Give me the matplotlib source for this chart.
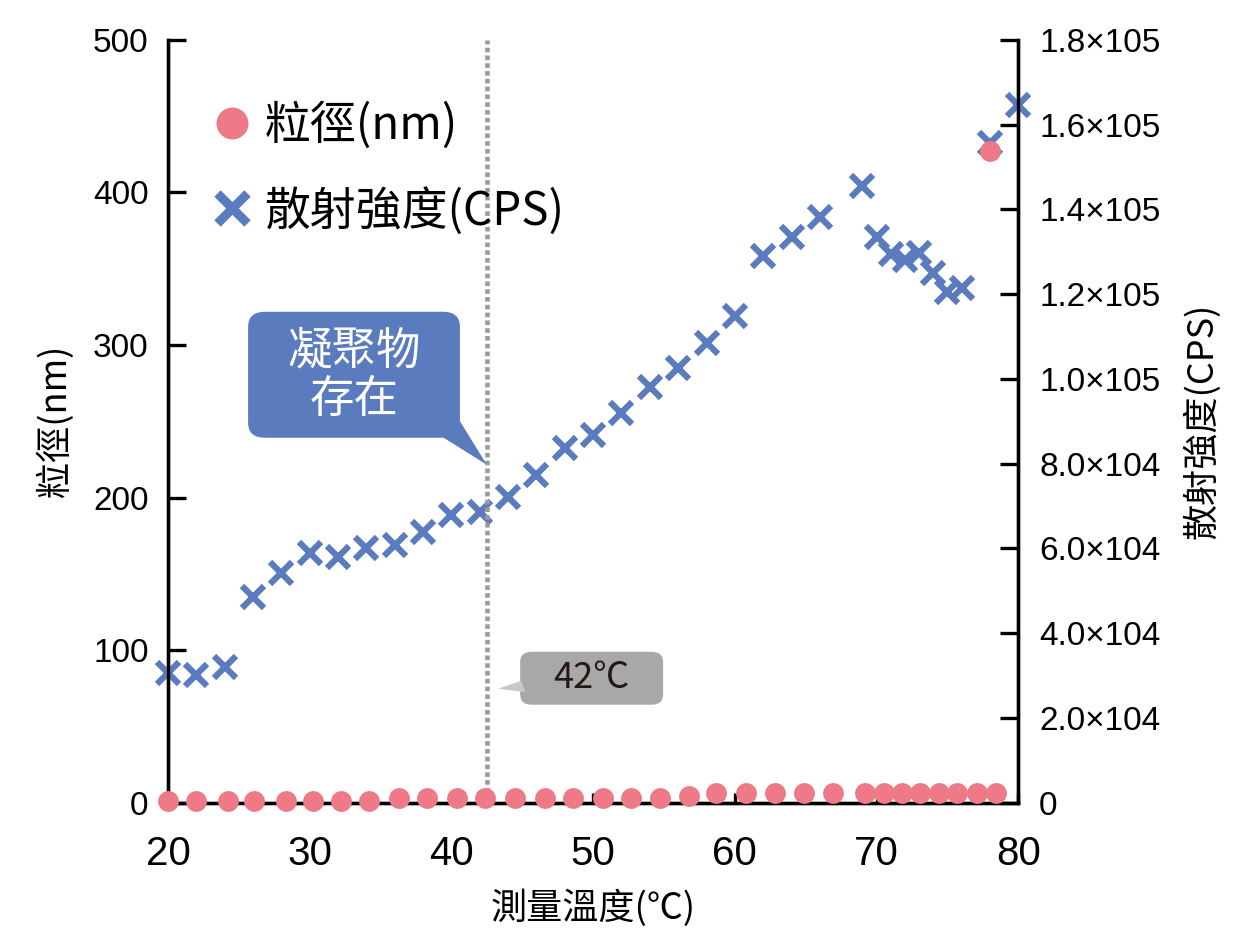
import matplotlib
matplotlib.use("Agg")
import matplotlib.pyplot as plt
from matplotlib.lines import Line2D
from matplotlib.patches import FancyBboxPatch, Polygon

plt.rcParams['font.family'] = ['Noto Sans CJK TC', 'DejaVu Sans']

# particle size (nm) vs temperature
size_temp = [20.0, 22.0, 24.2, 26.1, 28.3, 30.2, 32.2, 34.2, 36.3, 38.3, 40.4, 42.4,
             44.5, 46.6, 48.6, 50.7, 52.7, 54.7, 56.8, 58.7, 60.8, 62.8, 64.9, 66.9,
             69.2, 70.5, 71.8, 73.1, 74.4, 75.7, 77.1, 78.4, 78.0]
size_nm = [1, 1, 1, 1, 1, 1, 1, 1, 3, 3, 3, 3,
           3, 3, 3, 3, 3, 3, 4.5, 6, 6, 6, 6, 6,
           6, 6, 6, 6, 6, 6, 6, 6, 427]

# scattering intensity (CPS) vs temperature
cps_temp = [20, 22, 24, 26, 28, 30, 32, 34, 36, 38, 40, 42, 44, 46, 48, 50, 52, 54,
            56, 58, 60, 62, 64, 66, 69, 70, 71, 72, 73, 74, 75, 76, 78, 80]
cps = [30700, 30200, 31900, 48600, 54300, 59000, 58000, 60200, 60900, 63900, 67900,
       68700, 72200, 77400, 83800, 86800, 92000, 98100, 102600, 108500, 114900,
       129000, 133500, 138200, 145500, 133500, 129500, 128100, 129700, 125000,
       120500, 121500, 155700, 164700]

left_ticks = [0, 100, 200, 300, 400, 500]
right_ticks = [0, 20000, 40000, 60000, 80000, 100000, 120000, 140000, 160000, 180000]
right_labels = ['0', '2.0×104', '4.0×104', '6.0×104', '8.0×104', '1.0×105',
                '1.2×105', '1.4×105', '1.6×105', '1.8×105']
x_ticks = [20, 30, 40, 50, 60, 70, 80]

red = '#ee7a87'
blue = '#5b7bbf'
grey = '#a8a8a8'
num_font = 'Liberation Sans'

fig = plt.figure(figsize=(12.54, 9.51), dpi=100)
ax = fig.add_axes([0.134, 0.156, 0.678, 0.802])
ax2 = ax.twinx()

ax.set_xlim(20, 80)
ax.set_ylim(0, 500)
ax2.set_ylim(0, 180000)

ax2.plot(cps_temp, cps, linestyle='none', marker='x', ms=16.5, mew=4.5, color=blue,
         clip_on=False, zorder=3)
ax.plot(size_temp, size_nm, linestyle='none', marker='o', ms=15, color=red,
        mec='none', clip_on=False, zorder=4)
ax.set_zorder(ax2.get_zorder() + 1)
ax.patch.set_visible(False)

# 42 C marker line
ax.plot([42.5, 42.5], [7, 500], color='#9a9a9a', lw=3.3, ls=(0, (1, 0.7)), zorder=1)

for a in (ax, ax2):
    a.spines['top'].set_visible(False)
    for s in a.spines.values():
        s.set_linewidth(2.4)

ax.set_xticks(x_ticks)
ax.set_xticklabels([str(t) for t in x_ticks], family=num_font, fontsize=29)
ax.set_yticks(left_ticks)
ax.set_yticklabels([str(t) for t in left_ticks], family=num_font, fontsize=24)
ax.tick_params(axis='y', direction='in', length=13, width=2.4, pad=14)
ax.tick_params(axis='x', direction='in', length=7, width=2.4, pad=23)
ax2.set_yticks(right_ticks)
ax2.set_yticklabels(right_labels, family=num_font, fontsize=24)
ax2.tick_params(axis='y', direction='in', length=13, width=2.4, pad=15)

ax.set_xlabel('測量溫度(℃)', fontsize=26, labelpad=12)
ax.set_ylabel('粒徑(nm)', fontsize=26, labelpad=14)
ax2.set_ylabel('散射強度(CPS)', fontsize=26, labelpad=16)

handles = [Line2D([], [], ls='none', marker='o', ms=23, color=red, mec='none'),
           Line2D([], [], ls='none', marker='x', ms=22, mew=6.5, color=blue)]
ax.legend(handles, ['粒徑(nm)', '散射強度(CPS)'], loc='upper left',
          bbox_to_anchor=(0.027, 0.943), borderaxespad=0, frameon=False, fontsize=33,
          handletextpad=0.2, labelspacing=0.8, handlelength=1.0)

# callout: aggregates present
ax.add_patch(FancyBboxPatch((25.65, 239.2), 40.6 - 25.65, 321.8 - 239.2,
                            boxstyle='round,pad=0,rounding_size=1.2',
                            mutation_aspect=8.2, fc=blue, ec='none', zorder=5))
ax.add_patch(Polygon([(39.4, 239.5), (40.6, 250), (42.5, 221.5)], closed=True,
                     fc=blue, ec='none', zorder=5))
ax.text(33.1, 280.5, '凝聚物\n存在', ha='center', va='center', color='white',
        fontsize=32, linespacing=1.05, zorder=6)

# callout: 42 C
ax.add_patch(FancyBboxPatch((44.85, 64.2), 54.94 - 44.85, 98.9 - 64.2,
                            boxstyle='round,pad=0,rounding_size=0.8',
                            mutation_aspect=8.2, fc=grey, ec='none', zorder=5))
ax.add_patch(Polygon([(44.95, 80), (45.2, 72.5), (43.3, 74.7)], closed=True,
                     fc='#c8c8c8', ec='none', zorder=5))
ax.text(49.9, 81.5, '42℃', ha='center', va='center', color='#231815',
        fontsize=26, zorder=6)

fig.savefig('out.png', dpi=100)
